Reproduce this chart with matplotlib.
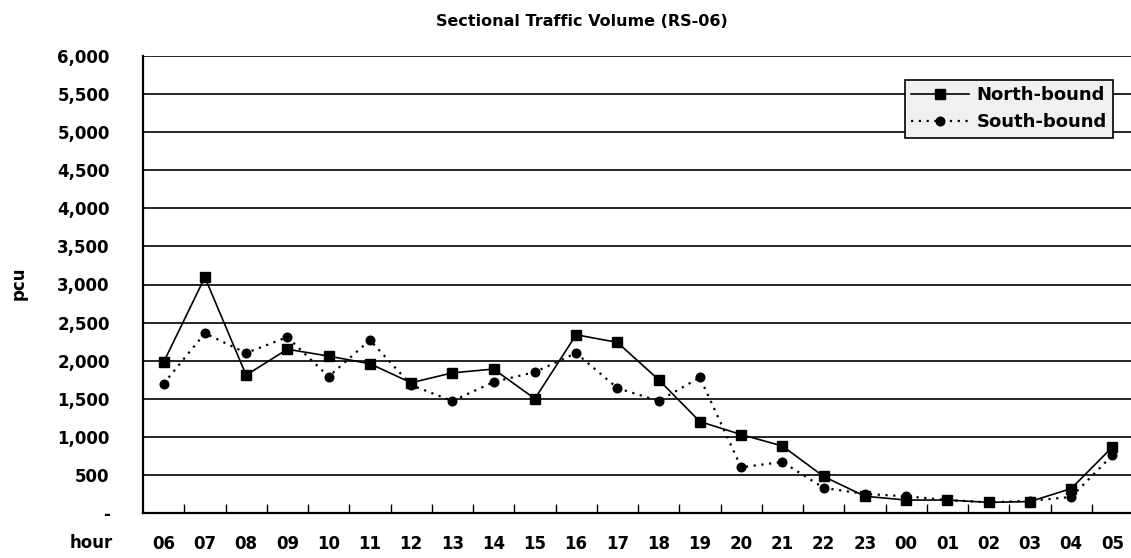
import matplotlib
matplotlib.use('Agg')
import matplotlib.pyplot as plt
import numpy as np

# hourly sectional traffic volume, pcu
hours = ['06', '07', '08', '09', '10', '11', '12', '13', '14', '15', '16', '17',
         '18', '19', '20', '21', '22', '23', '00', '01', '02', '03', '04', '05']
north = [1980, 3095, 1810, 2150, 2060, 1960, 1710, 1840, 1890, 1500, 2340, 2240,
         1750, 1200, 1030, 880, 480, 220, 170, 170, 140, 150, 320, 866]
south = [1700, 2360, 2100, 2310, 1790, 2270, 1680, 1470, 1720, 1850, 2100, 1640,
         1470, 1780, 600, 670, 330, 250, 220, 170, 140, 160, 210, 757]
yticks = [0, 500, 1000, 1500, 2000, 2500, 3000, 3500, 4000, 4500, 5000, 5500, 6000]
ytick_labels = ['-', '500', '1,000', '1,500', '2,000', '2,500', '3,000', '3,500',
                '4,000', '4,500', '5,000', '5,500', '6,000']

plt.rcParams['font.family'] = ['DejaVu Sans']
plt.rcParams['font.weight'] = 'bold'

W, H = 1131, 558
fig = plt.figure(figsize=(W / 100, H / 100), dpi=100)
ax = fig.add_axes([143 / W, 45 / H, 990 / W, 457 / H])

x = np.arange(len(hours))
ax.plot(x, north, color='black', lw=1.2, marker='s', ms=6.8, label='North-bound', zorder=3)
ax.plot(x, south, color='black', lw=1.6, ls=(0, (1, 2.5)), marker='o', ms=6.2,
        label='South-bound', zorder=3)

ax.set_xlim(-0.5, len(hours) - 0.5)
ax.set_ylim(0, 6000)
ax.set_yticks(yticks)
ax.set_yticklabels(ytick_labels, fontsize=12, fontweight='bold')
ax.set_xticks(x)
ax.set_xticklabels(hours, fontsize=12, fontweight='bold')
ax.set_xticks(np.arange(0.5, len(hours) - 1, 1), minor=True)
ax.tick_params(axis='x', which='major', length=0, pad=16)
ax.tick_params(axis='x', which='minor', direction='in', length=6.5, width=1, color='black')
ax.tick_params(axis='y', which='major', length=0, pad=24)

ax.grid(axis='y', color='black', lw=1.2)
ax.set_axisbelow(True)
for s in ['top', 'right']:
    ax.spines[s].set_visible(False)
for s in ['left', 'bottom']:
    ax.spines[s].set_linewidth(1.6)
    ax.spines[s].set_color('black')

leg = ax.legend(loc='upper right', bbox_to_anchor=(1113 / W, 1 - 80 / H),
                bbox_transform=fig.transFigure, borderaxespad=0, fancybox=False,
                framealpha=1, facecolor='#f0f0f0', edgecolor='black',
                prop={'size': 13, 'weight': 'bold'}, handlelength=3.2,
                handletextpad=0.4, labelspacing=0.5, borderpad=0.35)
leg.get_frame().set_linewidth(1.2)

fig.text(582 / W, 1 - 22 / H, 'Sectional Traffic Volume (RS-06)', ha='center', va='center',
         fontsize=11.5, fontweight='bold')
fig.text(19 / W, 1 - 283 / H, 'pcu', rotation=90, ha='center', va='center',
         fontsize=12, fontweight='bold')
fig.text(113 / W, 1 - 543 / H, 'hour', ha='right', va='center', fontsize=12, fontweight='bold')

fig.savefig('out.png', dpi=100, facecolor='white')
